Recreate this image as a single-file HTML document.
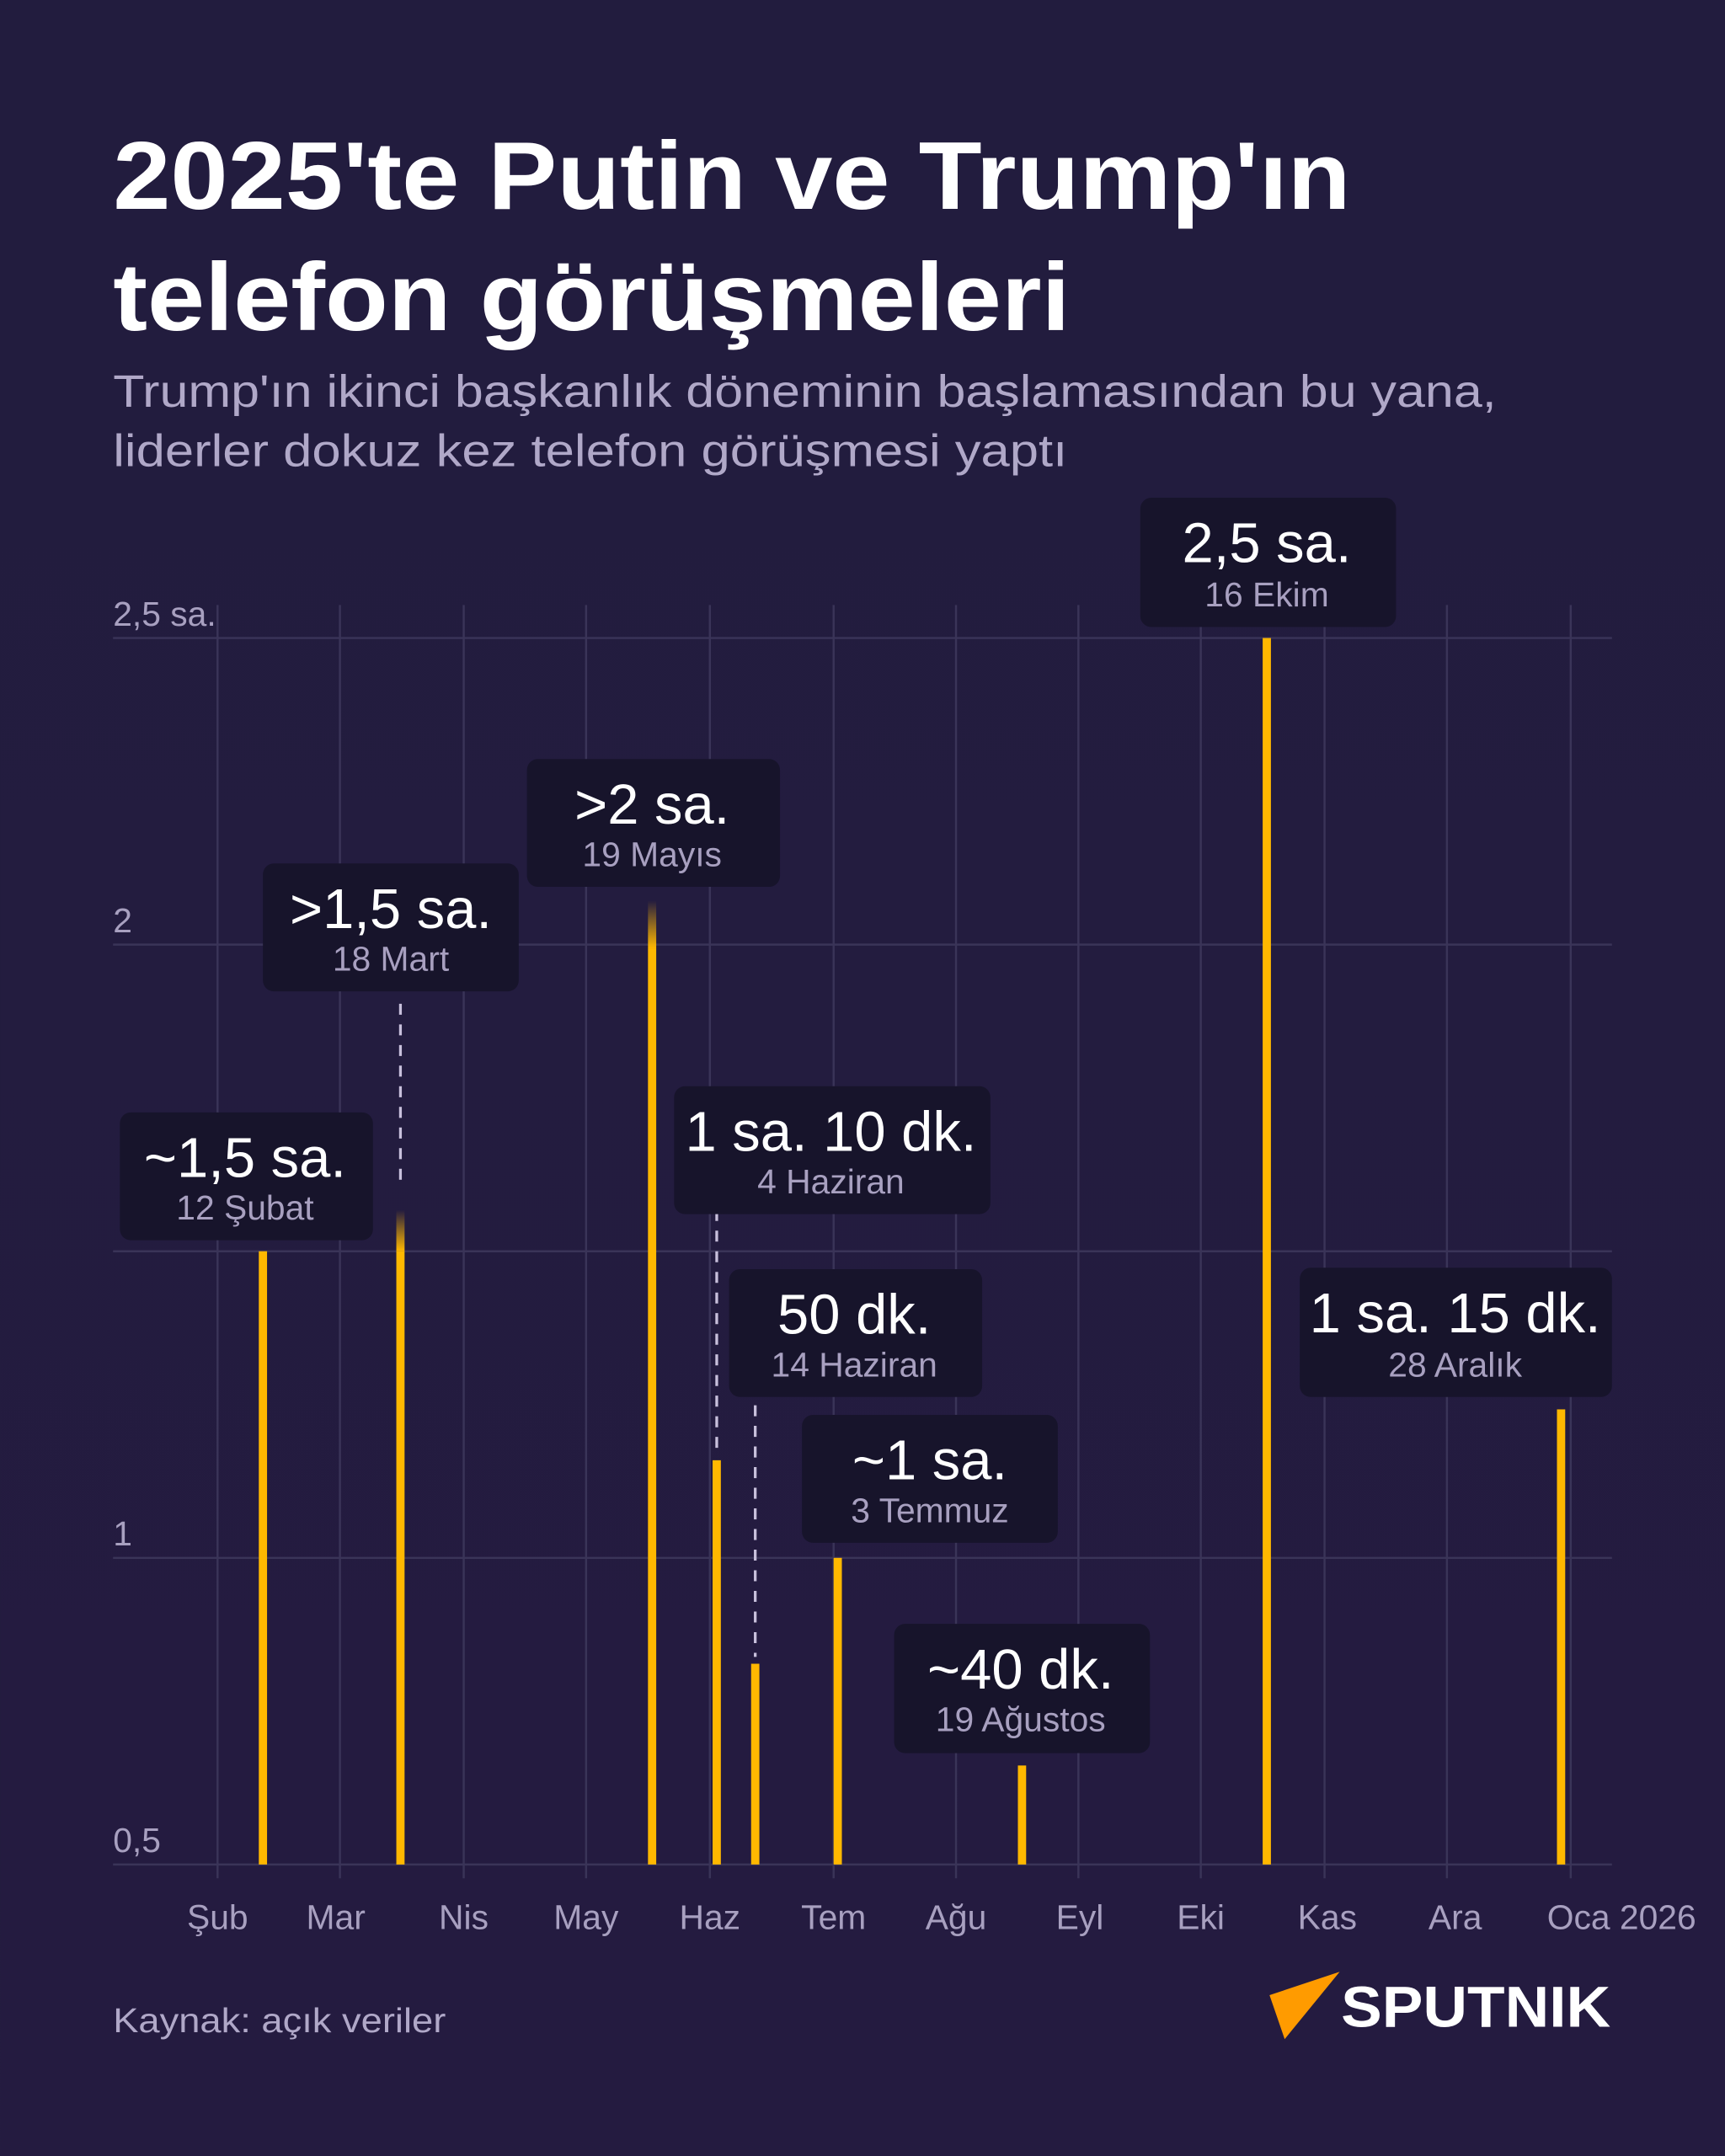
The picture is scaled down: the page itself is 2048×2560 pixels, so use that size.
<!DOCTYPE html>
<html><head><meta charset="utf-8"><style>
html,body{margin:0;padding:0;background:#221c3e;}
svg{display:block}
text{font-family:"Liberation Sans","DejaVu Sans",sans-serif;}
</style></head><body>
<svg width="2048" height="2560" viewBox="0 0 1254 1568" xmlns="http://www.w3.org/2000/svg">
<defs>
<linearGradient id="bg" x1="0" y1="0" x2="0" y2="1">
<stop offset="0" stop-color="#221c3e"/><stop offset="1" stop-color="#241b40"/></linearGradient>
<linearGradient id="fade" x1="0" y1="0" x2="0" y2="1">
<stop offset="0" stop-color="#ffb800" stop-opacity="0"/><stop offset="1" stop-color="#ffb800"/></linearGradient>
</defs>
<rect width="1254" height="1568" fill="url(#bg)"/>
<text x="82" y="152" font-size="70" font-weight="bold" fill="#fff" textLength="900" lengthAdjust="spacingAndGlyphs">2025'te Putin ve Trump'ın</text>
<text x="82" y="240" font-size="70" font-weight="bold" fill="#fff" textLength="696" lengthAdjust="spacingAndGlyphs">telefon görüşmeleri</text>
<text x="82" y="296" font-size="33" fill="#b0a8c8" textLength="1006" lengthAdjust="spacingAndGlyphs">Trump'ın ikinci başkanlık döneminin başlamasından bu yana,</text>
<text x="82" y="339" font-size="33" fill="#b0a8c8" textLength="694" lengthAdjust="spacingAndGlyphs">liderler dokuz kez telefon görüşmesi yaptı</text>
<g stroke="#3a3458" stroke-width="1.5">
<line x1="82" y1="464" x2="1172" y2="464"/><line x1="82" y1="687" x2="1172" y2="687"/>
<line x1="82" y1="910" x2="1172" y2="910"/><line x1="82" y1="1133" x2="1172" y2="1133"/>
<line x1="82" y1="1356" x2="1172" y2="1356"/>
<line x1="158" y1="440" x2="158" y2="1366"/><line x1="247" y1="440" x2="247" y2="1366"/>
<line x1="337" y1="440" x2="337" y2="1366"/><line x1="426" y1="440" x2="426" y2="1366"/>
<line x1="516" y1="440" x2="516" y2="1366"/><line x1="606" y1="440" x2="606" y2="1366"/>
<line x1="695" y1="440" x2="695" y2="1366"/><line x1="784" y1="440" x2="784" y2="1366"/>
<line x1="873" y1="440" x2="873" y2="1366"/><line x1="963" y1="440" x2="963" y2="1366"/>
<line x1="1052" y1="440" x2="1052" y2="1366"/><line x1="1142" y1="440" x2="1142" y2="1366"/>
</g>
<g font-size="25" fill="#a8a0c0">
<text x="82" y="455">2,5 sa.</text><text x="82" y="678">2</text>
<text x="82" y="1124">1</text><text x="82" y="1347">0,5</text>
</g>
<g font-size="25" fill="#a8a0c0" text-anchor="middle">
<text x="158" y="1403">Şub</text><text x="244" y="1403">Mar</text><text x="337" y="1403">Nis</text>
<text x="426" y="1403">May</text><text x="516" y="1403">Haz</text><text x="606" y="1403">Tem</text>
<text x="695" y="1403">Ağu</text><text x="785" y="1403">Eyl</text><text x="873" y="1403">Eki</text>
<text x="965" y="1403">Kas</text><text x="1058" y="1403">Ara</text><text x="1179" y="1403">Oca 2026</text>
</g>
<g fill="#ffb800">
<rect x="188" y="910" width="6" height="446"/>
<rect x="288" y="910" width="6" height="446"/><rect x="288" y="880" width="6" height="30" fill="url(#fade)"/>
<rect x="471" y="690" width="6" height="666"/><rect x="471" y="655" width="6" height="35" fill="url(#fade)"/>
<rect x="518" y="1062" width="6" height="294"/>
<rect x="546" y="1210" width="6" height="146"/>
<rect x="606" y="1133" width="6" height="223"/>
<rect x="740" y="1284" width="6" height="72"/>
<rect x="918" y="464" width="6" height="892"/>
<rect x="1132" y="1025" width="6" height="331"/>
</g>
<g stroke="#c8c0dc" stroke-width="2" stroke-dasharray="8,7">
<line x1="291" y1="730" x2="291" y2="860"/>
<line x1="521" y1="880" x2="521" y2="1058"/>
<line x1="549" y1="1022" x2="549" y2="1205"/>
</g>
<g fill="#17142b">
<rect x="87" y="809" width="184" height="93" rx="8"/>
<rect x="191" y="628" width="186" height="93" rx="8"/>
<rect x="383" y="552" width="184" height="93" rx="8"/>
<rect x="490" y="790" width="230" height="93" rx="8"/>
<rect x="530" y="923" width="184" height="93" rx="8"/>
<rect x="583" y="1029" width="186" height="93" rx="8"/>
<rect x="650" y="1181" width="186" height="94" rx="8"/>
<rect x="829" y="362" width="186" height="94" rx="8"/>
<rect x="945" y="922" width="227" height="94" rx="8"/>
</g>
<g text-anchor="middle">
<g font-size="41" fill="#fff">
<text x="178" y="856">~1,5 sa.</text><text x="284" y="675">&gt;1,5 sa.</text>
<text x="474" y="599">&gt;2 sa.</text><text x="604" y="837">1 sa. 10 dk.</text>
<text x="621" y="970">50 dk.</text><text x="676" y="1076">~1 sa.</text>
<text x="742" y="1228">~40 dk.</text><text x="921" y="409">2,5 sa.</text>
<text x="1058" y="969">1 sa. 15 dk.</text>
</g>
<g font-size="25" fill="#a8a0c0">
<text x="178" y="887">12 Şubat</text><text x="284" y="706">18 Mart</text>
<text x="474" y="630">19 Mayıs</text><text x="604" y="868">4 Haziran</text>
<text x="621" y="1001">14 Haziran</text><text x="676" y="1107">3 Temmuz</text>
<text x="742" y="1259">19 Ağustos</text><text x="921" y="441">16 Ekim</text>
<text x="1058" y="1001">28 Aralık</text>
</g>
</g>
<text x="82" y="1478" font-size="25" fill="#b0a8c8" textLength="242" lengthAdjust="spacingAndGlyphs">Kaynak: açık veriler</text>
<polygon points="923,1451 974,1434 934,1483" fill="#ff9b00"/>
<text x="975" y="1474" font-size="42" font-weight="bold" fill="#fff" textLength="196" lengthAdjust="spacingAndGlyphs">SPUTNIK</text>
</svg>
</body></html>
